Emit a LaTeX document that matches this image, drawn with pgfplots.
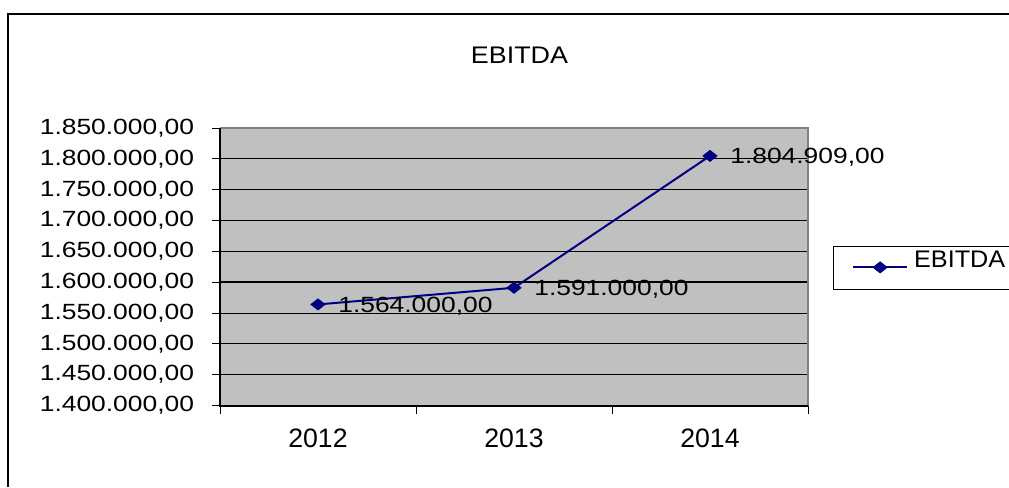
\documentclass[border=0pt]{standalone}
\usepackage{fontspec}
\setmainfont{Liberation Sans}
\newfontfamily\numfont[FakeStretch=1.2]{Liberation Sans}
\newfontfamily\titlefont[FakeStretch=1.12]{Liberation Sans}
\newfontfamily\legfont[FakeStretch=1.05]{Liberation Sans}
\usepackage{pgfplots}
\pgfplotsset{compat=1.18}
\definecolor{plotgray}{HTML}{C0C0C0}
\definecolor{bordergray}{HTML}{808080}
\definecolor{navyline}{HTML}{000080}
\begin{document}
\begin{tikzpicture}
% chart frame (left and top edges visible)
\draw[black, line width=1pt] (6pt,0pt) -- (6pt,354.75pt) -- (760pt,354.75pt);
% title
\node[font=\fontsize{18}{22}\titlefont, anchor=center] at (389.6pt,324pt) {EBITDA};
\begin{axis}[
  at={(165pt,61.1pt)}, anchor=south west,
  scale only axis, width=441pt, height=208.1pt,
  clip=false,
  xmin=0, xmax=3,
  ymin=1400000, ymax=1850000,
  scaled y ticks=false,
  axis background/.style={fill=plotgray},
  axis line style={draw=none},
  xtick pos=bottom, ytick pos=left,
  xtick={0.5,1.5,2.5},
  xticklabels={2012,2013,2014},
  minor xtick={0,1,2,3},
  major x tick style={draw=none},
  minor x tick style={black, line width=0.75pt},
  ytick={1400000,1450000,1500000,1550000,1600000,1650000,1700000,1750000,1800000,1850000},
  yticklabels={{1.400.000,00},{1.450.000,00},{1.500.000,00},{1.550.000,00},{1.600.000,00},{1.650.000,00},{1.700.000,00},{1.750.000,00},{1.800.000,00},{1.850.000,00}},
  y tick style={black, line width=0.75pt},
  tick align=outside,
  major tick length=6pt, minor tick length=6pt,
  ymajorgrids,
  major grid style={black, line width=0.75pt},
  yticklabel style={font=\fontsize{16.5}{19}\numfont, anchor=east, inner sep=0pt},
  xticklabel style={font=\fontsize{20}{24}\selectfont, anchor=north, inner sep=0pt},
  yticklabel shift=13.3pt,
  xticklabel shift=11pt,
  legend style={at={(1.0425,0.5766)}, anchor=north west, draw=black, line width=0.75pt,
    inner xsep=14pt, inner ysep=0pt, font=\fontsize{18}{22}\legfont,
    nodes={inner sep=0pt, text height=16pt, text depth=16.25pt, anchor=base west}, column sep=4.5pt},
  legend image code/.code={\draw[mark repeat=2,mark phase=2] plot coordinates {(0pt,0pt)(20.25pt,0pt)(40.5pt,0pt)};},
  nodes near coords,
  point meta=explicit symbolic,
  every node near coord/.append style={font=\fontsize{16.5}{19}\numfont, anchor=west, xshift=15pt, yshift=-1pt, text=black, inner sep=0pt},
]
\draw[black, line width=1.5pt] (axis cs:0,1600000) -- (axis cs:3,1600000);
\draw[bordergray, line width=1.5pt] (rel axis cs:0,1) -- (rel axis cs:1,1) -- (rel axis cs:1,0);
\draw[black, line width=1.5pt] (rel axis cs:0,1) -- (rel axis cs:0,0) -- (rel axis cs:1,0);
\addplot[navyline, line width=1.5pt, mark=diamond*, mark size=4.2pt, mark options={fill=navyline, line width=0.5pt, xscale=1.7}]
  coordinates {(0.5,1564000)[1.564.000,00] (1.5,1591000)[1.591.000,00] (2.5,1804909)[1.804.909,00]};
\addlegendentry{EBITDA\hspace*{40pt}}
\end{axis}
\pgfresetboundingbox
\path[use as bounding box] (0,0) rectangle (756.75pt,365.25pt);
\end{tikzpicture}
\end{document}
